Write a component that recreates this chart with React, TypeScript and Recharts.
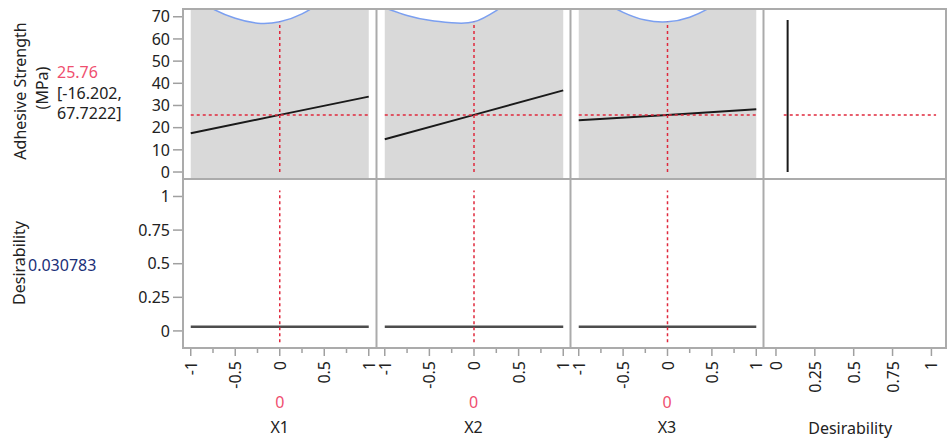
import React from "react";
import { ComposedChart, Area, Line, XAxis, YAxis, ReferenceLine } from "recharts";

// profiler settings
const factors = ["X1", "X2", "X3"];
const factorSettings = [0, 0, 0];
const predicted = 25.76;
const ciLow = "[-16.202,";
const ciHigh = "67.7222]";
const desirability = 0.030783;

// confidence band, at these factor levels
const xGrid = [-1, -0.75, -0.5, -0.25, 0, 0.25, 0.5, 0.75, 1];
const upperX1 = [79.2, 73.5, 69.3, 67.1, 67.72, 71.3, 77.6, 86.0, 95.8];
const lowerX1 = [-44.2, -34.5, -26.1, -19.7, -16.2, -15.7, -17.8, -22.0, -27.6];
const upperX2 = [74.0, 70.6, 68.4, 67.3, 67.72, 72.8, 79.5, 87.0, 95.0];
const lowerX2 = [-45.4, -36.4, -28.4, -21.5, -16.2, -15.6, -16.5, -18.2, -20.4];
const upperX3 = [84.5, 77.5, 72.0, 68.5, 67.72, 69.8, 74.6, 81.4, 89.7];
const lowerX3 = [-38.1, -29.9, -23.0, -18.3, -16.2, -17.0, -20.5, -26.0, -32.9];

// prediction traces
const predX = [-1, 0, 1];
const predX1 = [17.5, 25.76, 34.0];
const predX2 = [14.8, 25.76, 36.8];
const predX3 = [23.3, 25.76, 28.3];

// desirability traces
const desirX = [-1, 1];
const desirFnD = [0.075, 0.075];
const desirFnY = [0, 68.5];

// ticks
const strengthTicks = [0, 10, 20, 30, 40, 50, 60, 70];
const desirTicks = [0, 0.25, 0.5, 0.75, 1];
const factorTicks = [-1, -0.75, -0.5, -0.25, 0, 0.25, 0.5, 0.75, 1];

const FONT = "'Noto Sans', sans-serif";
const TEXT = "#222";
const BORDER = "#ababab";
const TICK = "#a0a0a0";
const RED = "#e0283c";
const LABEL_RED = "#ef4f6f";

const COLS = [183, 376.5, 570.5, 763.5, 946];
const ROWS = [9, 179, 348];
const Y_AXIS_W = 60;
const X_AXIS_H = 50;
const PAD = 12; // room so edge labels are not clipped

const FACTOR_DOMAIN = [-1.087, 1.087];
const DESIR_X_DOMAIN = [-0.077, 1.097];
const STRENGTH_DOMAIN = [-3.15, 73.5];
const DESIR_Y_DOMAIN = [-0.127, 1.13];

const bands = [
  [upperX1, lowerX1],
  [upperX2, lowerX2],
  [upperX3, lowerX3],
].map(([up, lo]) => xGrid.map((x, i) => ({ x, ci: [lo[i], up[i]] })));
const preds = [predX1, predX2, predX3].map((ys) => predX.map((x, i) => ({ x, y: ys[i] })));
const desirLine = desirX.map((x) => ({ x, y: desirability }));
const desirFn = desirFnD.map((x, i) => ({ x, y: desirFnY[i] }));

const MARGIN = { top: PAD, right: PAD, bottom: PAD, left: PAD };

function box(row: number, col: number) {
  const extraW = col === 0 ? Y_AXIS_W : 0;
  const extraH = row === 1 ? X_AXIS_H : 0;
  return {
    left: COLS[col] - extraW - PAD,
    top: ROWS[row] - PAD,
    width: COLS[col + 1] - COLS[col] + extraW + 2 * PAD,
    height: ROWS[row + 1] - ROWS[row] + extraH + 2 * PAD,
    axisY: ROWS[row + 1] - ROWS[row] + PAD,
  };
}

function BottomTick(props: any) {
  const { x, payload, axisY, all } = props;
  const v = payload.value;
  const major = all || Math.abs(v * 2 - Math.round(v * 2)) < 1e-6;
  const ly = axisY + 13;
  return (
    <g>
      <line x1={x} x2={x} y1={axisY} y2={axisY + (major ? 8 : 5)} stroke={TICK} strokeWidth={1.5} />
      {major && (
        <text
          x={x}
          y={ly}
          transform={`rotate(-90 ${x} ${ly})`}
          textAnchor="end"
          dominantBaseline="central"
          fontSize={16}
          fontFamily={FONT}
          fill={TEXT}
        >
          {String(v)}
        </text>
      )}
    </g>
  );
}

const yTickProps = {
  width: Y_AXIS_W,
  tickSize: 10,
  tickMargin: 3,
  axisLine: false,
  tickLine: { stroke: TICK, strokeWidth: 1.5 },
  tick: { fill: TEXT, fontSize: 16, fontFamily: FONT },
  interval: 0 as const,
};

function StrengthPanel({ col }: { col: number }) {
  const b = box(0, col);
  return (
    <div style={{ position: "absolute", left: b.left, top: b.top }}>
      <ComposedChart width={b.width} height={b.height} data={bands[col]} margin={MARGIN}>
        <XAxis type="number" dataKey="x" domain={FACTOR_DOMAIN} allowDataOverflow hide />
        <YAxis type="number" domain={STRENGTH_DOMAIN} allowDataOverflow hide={col !== 0} ticks={strengthTicks} {...yTickProps} />
        <Area
          type="natural"
          dataKey="ci"
          fill="#d9d9d9"
          fillOpacity={1}
          stroke="#7b9ff0"
          strokeWidth={1.5}
          isAnimationActive={false}
        />
        <Line data={preds[col]} dataKey="y" type="linear" stroke="#1a1a1a" strokeWidth={2} dot={false} isAnimationActive={false} />
        <ReferenceLine
          segment={[{ x: -1, y: predicted }, { x: 1, y: predicted }]}
          stroke={RED}
          strokeWidth={1.5}
          strokeDasharray="3 3"
        />
        <ReferenceLine
          segment={[{ x: factorSettings[col], y: 0 }, { x: factorSettings[col], y: 67.72 }]}
          stroke={RED}
          strokeWidth={1.5}
          strokeDasharray="3 3"
        />
      </ComposedChart>
    </div>
  );
}

function DesirPanel({ col }: { col: number }) {
  const b = box(1, col);
  return (
    <div style={{ position: "absolute", left: b.left, top: b.top }}>
      <ComposedChart width={b.width} height={b.height} data={desirLine} margin={MARGIN}>
        <XAxis
          type="number"
          dataKey="x"
          domain={FACTOR_DOMAIN}
          allowDataOverflow
          ticks={factorTicks}
          interval={0}
          height={X_AXIS_H}
          axisLine={false}
          tickLine={false}
          tick={(p: any) => <BottomTick {...p} axisY={b.axisY} all={false} />}
        />
        <YAxis type="number" domain={DESIR_Y_DOMAIN} allowDataOverflow hide={col !== 0} ticks={desirTicks} {...yTickProps} />
        <Line dataKey="y" type="linear" stroke="#4d4d4d" strokeWidth={2.5} dot={false} isAnimationActive={false} />
        <ReferenceLine
          segment={[{ x: factorSettings[col], y: -0.084 }, { x: factorSettings[col], y: 1.045 }]}
          stroke={RED}
          strokeWidth={1.5}
          strokeDasharray="3 3"
        />
      </ComposedChart>
    </div>
  );
}

function DesirFunctionPanel() {
  const b = box(0, 3);
  return (
    <div style={{ position: "absolute", left: b.left, top: b.top }}>
      <ComposedChart width={b.width} height={b.height} data={desirFn} margin={MARGIN}>
        <XAxis type="number" dataKey="x" domain={DESIR_X_DOMAIN} allowDataOverflow hide />
        <YAxis type="number" domain={STRENGTH_DOMAIN} allowDataOverflow hide />
        <Line dataKey="y" type="linear" stroke="#1a1a1a" strokeWidth={2} dot={false} isAnimationActive={false} />
        <ReferenceLine
          segment={[{ x: 0.05, y: predicted }, { x: 1.03, y: predicted }]}
          stroke={RED}
          strokeWidth={1.5}
          strokeDasharray="3 3"
        />
      </ComposedChart>
    </div>
  );
}

function DesirAxisPanel() {
  const b = box(1, 3);
  return (
    <div style={{ position: "absolute", left: b.left, top: b.top }}>
      <ComposedChart width={b.width} height={b.height} data={[]} margin={MARGIN}>
        <XAxis
          type="number"
          dataKey="x"
          domain={DESIR_X_DOMAIN}
          allowDataOverflow
          ticks={desirTicks}
          interval={0}
          height={X_AXIS_H}
          axisLine={false}
          tickLine={false}
          tick={(p: any) => <BottomTick {...p} axisY={b.axisY} all={true} />}
        />
        <YAxis type="number" domain={DESIR_Y_DOMAIN} allowDataOverflow hide />
      </ComposedChart>
    </div>
  );
}

export default function App() {
  const centers = [0, 1, 2].map((c) => (COLS[c] + COLS[c + 1]) / 2);
  const desirCenter = COLS[3] + ((0.5 - DESIR_X_DOMAIN[0]) / (DESIR_X_DOMAIN[1] - DESIR_X_DOMAIN[0])) * (COLS[4] - COLS[3]);
  return (
    <div style={{ position: "absolute", left: 0, top: 0, width: 948, height: 441, background: "#fff", fontFamily: FONT, overflow: "hidden" }}>
      {[0, 1, 2].map((c) => (
        <StrengthPanel key={"s" + c} col={c} />
      ))}
      <DesirFunctionPanel />
      {[0, 1, 2].map((c) => (
        <DesirPanel key={"d" + c} col={c} />
      ))}
      <DesirAxisPanel />
      <svg width={948} height={441} style={{ position: "absolute", left: 0, top: 0, pointerEvents: "none" }}>
        <g fill="none" stroke={BORDER} strokeWidth={2}>
          <rect x={COLS[0]} y={ROWS[0]} width={COLS[4] - COLS[0]} height={ROWS[2] - ROWS[0]} />
          {COLS.slice(1, 4).map((x) => (
            <line key={x} x1={x} x2={x} y1={ROWS[0]} y2={ROWS[2]} />
          ))}
          <line x1={COLS[0]} x2={COLS[4]} y1={ROWS[1]} y2={ROWS[1]} />
        </g>
        <g fontFamily={FONT} fontSize={16} fill={TEXT} dominantBaseline="central">
          <text x={20} y={91} textAnchor="middle" transform="rotate(-90 20 91)">
            Adhesive Strength
          </text>
          <text x={42} y={88} textAnchor="middle" transform="rotate(-90 42 88)">
            (MPa)
          </text>
          <text x={57} y={72} fill={LABEL_RED}>
            {predicted.toFixed(2)}
          </text>
          <text x={57} y={93}>{ciLow}</text>
          <text x={57} y={113}>{ciHigh}</text>
          <text x={19} y={263} textAnchor="middle" transform="rotate(-90 19 263)">
            Desirability
          </text>
          <text x={28} y={265} fill="#1a2f78">
            {desirability}
          </text>
          {factors.map((f, i) => (
            <g key={f}>
              <text x={centers[i]} y={402} textAnchor="middle" fill={LABEL_RED}>
                {factorSettings[i]}
              </text>
              <text x={centers[i]} y={427} textAnchor="middle">
                {f}
              </text>
            </g>
          ))}
          <text x={desirCenter - 3} y={428} textAnchor="middle">
            Desirability
          </text>
        </g>
      </svg>
    </div>
  );
}
